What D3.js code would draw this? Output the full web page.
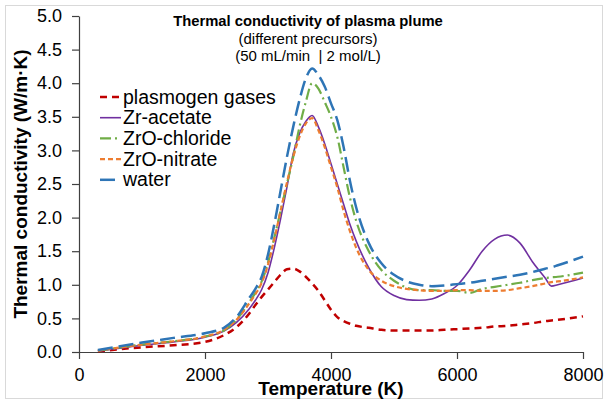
<!DOCTYPE html>
<html>
<head>
<meta charset="utf-8">
<script src="https://cdn.jsdelivr.net/npm/d3@7"></script>
<style>
  body { margin: 0; background: #fff; }
  text { font-family: "Liberation Sans", Arial, sans-serif; fill: #000; }
</style>
</head>
<body>
<svg id="chart"></svg>
<script>
const temps = [300, 1000, 1500, 2000, 2300, 2500, 2700, 2800, 2900, 3000, 3100, 3200, 3300, 3400, 3500, 3600, 3700, 3800, 3900, 4000, 4100, 4200, 4300, 4400, 4600, 4800, 5000, 5200, 5400, 5600, 5800, 6000, 6200, 6400, 6600, 6800, 7000, 7200, 7400, 7500, 7600, 8000];

const plasmogen = [0.01, 0.07, 0.10, 0.15, 0.25, 0.37, 0.57, 0.70, 0.82, 0.93, 1.04, 1.15, 1.23, 1.24, 1.20, 1.12, 1.02, 0.91, 0.77, 0.63, 0.52, 0.46, 0.42, 0.39, 0.36, 0.33, 0.32, 0.32, 0.32, 0.32, 0.33, 0.34, 0.35, 0.36, 0.38, 0.39, 0.41, 0.43, 0.46, 0.47, 0.48, 0.53];
const zrAcetate = [0.01, 0.10, 0.15, 0.22, 0.31, 0.44, 0.64, 0.77, 0.93, 1.18, 1.55, 1.98, 2.45, 2.95, 3.25, 3.43, 3.52, 3.35, 3.10, 2.80, 2.50, 2.20, 1.90, 1.65, 1.25, 0.97, 0.84, 0.78, 0.77, 0.79, 0.87, 0.99, 1.22, 1.50, 1.68, 1.74, 1.62, 1.34, 1.10, 0.98, 1.00, 1.10];
const zroChloride = [0.02, 0.11, 0.16, 0.23, 0.32, 0.48, 0.74, 0.88, 1.05, 1.33, 1.70, 2.10, 2.50, 2.90, 3.35, 3.72, 4.00, 3.92, 3.72, 3.50, 3.20, 2.75, 2.30, 1.95, 1.50, 1.22, 1.06, 0.96, 0.92, 0.92, 0.91, 0.91, 0.88, 0.94, 0.97, 1.00, 1.03, 1.07, 1.10, 1.11, 1.12, 1.18];
const zroNitrate = [0.02, 0.11, 0.16, 0.23, 0.33, 0.48, 0.72, 0.86, 1.03, 1.30, 1.68, 2.10, 2.52, 2.90, 3.20, 3.40, 3.48, 3.30, 3.05, 2.75, 2.45, 2.10, 1.80, 1.55, 1.22, 1.06, 0.98, 0.94, 0.92, 0.91, 0.91, 0.92, 0.92, 0.91, 0.91, 0.92, 0.95, 0.98, 1.02, 1.04, 1.05, 1.11];
const water = [0.03, 0.14, 0.21, 0.28, 0.36, 0.52, 0.80, 0.94, 1.12, 1.45, 1.90, 2.40, 2.90, 3.35, 3.75, 4.07, 4.22, 4.12, 3.95, 3.70, 3.45, 3.05, 2.55, 2.15, 1.62, 1.32, 1.15, 1.05, 1.00, 0.98, 0.99, 1.01, 1.03, 1.06, 1.09, 1.12, 1.15, 1.19, 1.24, 1.26, 1.29, 1.42];

const seriesNames = ["plasmogen gases", "Zr-acetate", "ZrO-chloride", "ZrO-nitrate", "water"];
const xTicks = [0, 2000, 4000, 6000, 8000];
const yTicks = [0, 0.5, 1, 1.5, 2, 2.5, 3, 3.5, 4, 4.5, 5];

const series = [
  { name: seriesNames[0], values: plasmogen, color: "#c00000", dash: "7,5", width: 2.5 },
  { name: seriesNames[1], values: zrAcetate, color: "#7030a0", dash: null, width: 1.6 },
  { name: seriesNames[2], values: zroChloride, color: "#70ad47", dash: "11,4,2,4", width: 2.2 },
  { name: seriesNames[3], values: zroNitrate, color: "#ed7d31", dash: "5,3", width: 2.2 },
  { name: seriesNames[4], values: water, color: "#2e75b6", dash: "15,6", width: 2.5 }
];

const W = 608, H = 405;
const margin = { top: 16, right: 25, bottom: 53, left: 79 };
const width = W - margin.left - margin.right;
const height = H - margin.top - margin.bottom;

const svgRoot = d3.select("#chart").attr("width", W).attr("height", H);

svgRoot.append("rect")
  .attr("x", 5.5).attr("y", 5.5)
  .attr("width", 597).attr("height", 393)
  .attr("fill", "none").attr("stroke", "#d9d9d9");

const svg = svgRoot.append("g")
  .attr("transform", `translate(${margin.left}, ${margin.top})`);

const xScale = d3.scaleLinear().domain([0, 8000]).range([0, width]);
const yScale = d3.scaleLinear().domain([0, 5]).range([height, 0]);

const xAxis = svg.append("g")
  .attr("transform", `translate(0, ${height})`)
  .call(d3.axisBottom(xScale).tickValues(xTicks).tickSize(7).tickPadding(9).tickSizeOuter(0).tickFormat(d3.format("d")));

const yAxis = svg.append("g")
  .call(d3.axisLeft(yScale).tickValues(yTicks).tickSize(7).tickPadding(10).tickSizeOuter(0).tickFormat(d3.format(".1f")));

[xAxis, yAxis].forEach(a => {
  a.selectAll("path, line").attr("stroke", "#404040").attr("stroke-width", 1.2);
  a.selectAll("text").attr("font-size", 18).attr("fill", "#000")
    .style("font-family", "'Liberation Sans', Arial, sans-serif");
});

const line = d3.line()
  .x((d, i) => xScale(temps[i]))
  .y(d => yScale(d))
  .curve(d3.curveMonotoneX);

series.forEach(s => {
  svg.append("path")
    .datum(s.values)
    .attr("fill", "none")
    .attr("stroke", s.color)
    .attr("stroke-width", s.width)
    .attr("stroke-dasharray", s.dash)
    .attr("d", line);
});

// legend
const legend = svgRoot.append("g");
series.forEach((s, i) => {
  const cy = 97 + i * 20.7;
  legend.append("line")
    .attr("x1", 100).attr("x2", 121)
    .attr("y1", cy).attr("y2", cy)
    .attr("stroke", s.color)
    .attr("stroke-width", s.width)
    .attr("stroke-dasharray", s.dash);
  legend.append("text")
    .attr("x", 123).attr("y", cy + 6.5)
    .attr("font-size", 19.5)
    .text(s.name);
});

// titles
svgRoot.append("text")
  .attr("x", 308).attr("y", 26)
  .attr("text-anchor", "middle")
  .attr("font-size", 14.8).attr("font-weight", "bold")
  .text("Thermal conductivity of plasma plume");
svgRoot.append("text")
  .attr("x", 308).attr("y", 44)
  .attr("text-anchor", "middle")
  .attr("font-size", 15)
  .text("(different precursors)");
svgRoot.append("text")
  .attr("x", 308).attr("y", 61)
  .attr("text-anchor", "middle")
  .attr("font-size", 15)
  .style("white-space", "pre")
  .text("(50 mL/min  | 2 mol/L)");

svgRoot.append("text")
  .attr("x", 331).attr("y", 395)
  .attr("text-anchor", "middle")
  .attr("font-size", 19).attr("font-weight", "bold")
  .text("Temperature (K)");

svgRoot.append("text")
  .attr("transform", "translate(27, 184) rotate(-90)")
  .attr("text-anchor", "middle")
  .attr("font-size", 19).attr("font-weight", "bold")
  .text("Thermal conductivity (W/m·K)");
</script>
</body>
</html>
